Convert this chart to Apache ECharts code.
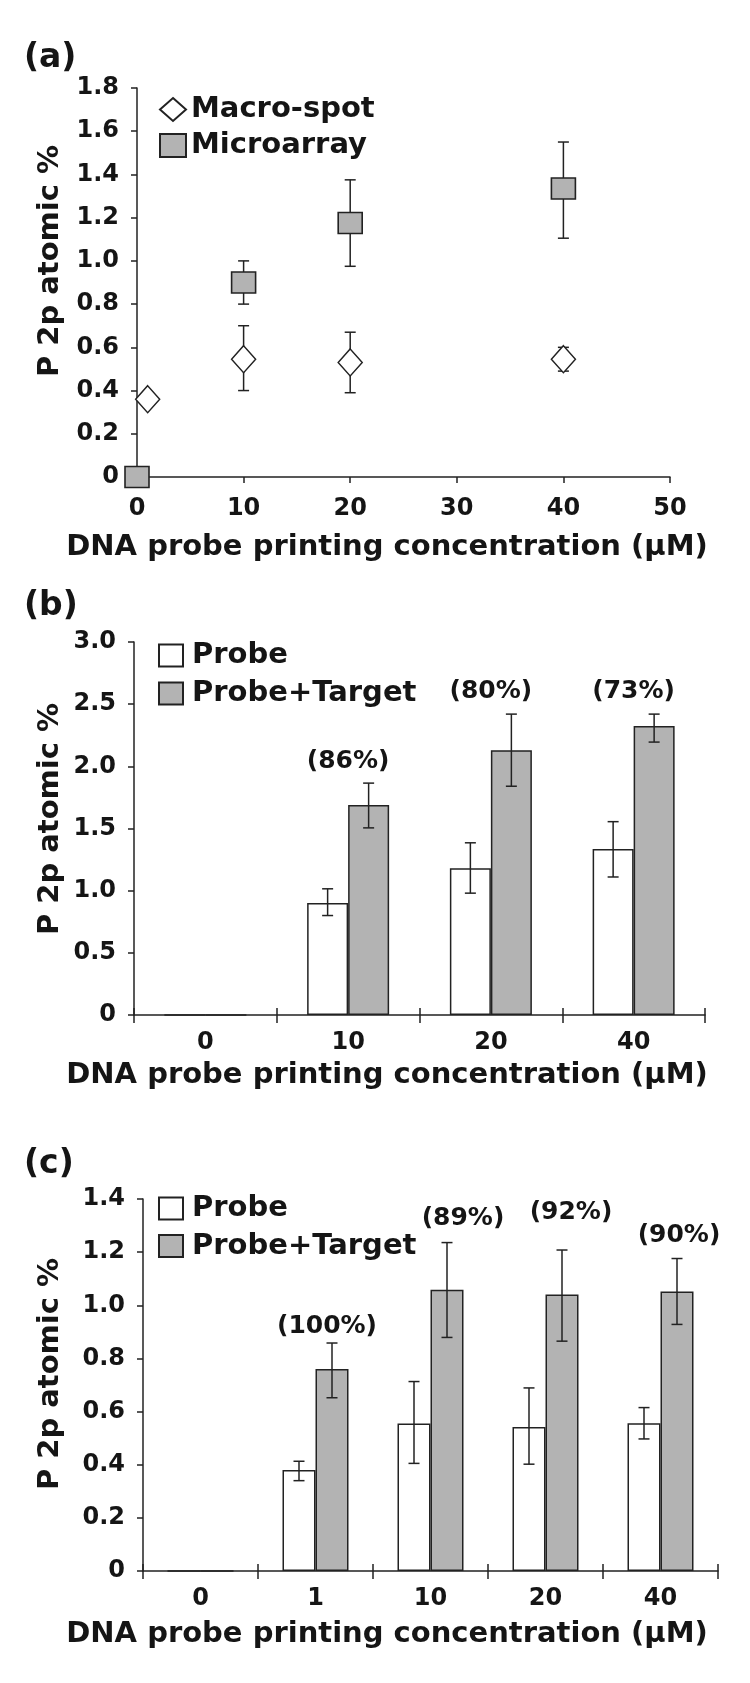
<!DOCTYPE html>
<html><head><meta charset="utf-8">
<script src="https://cdn.jsdelivr.net/npm/echarts@6/dist/echarts.min.js"></script>
<style>html,body{margin:0;padding:0;background:#fff}#c{width:750px;height:1683px}</style>
</head><body><div id="c"></div>
<script>
// ---------- Panel (a) data ----------
const aMacroX   = [1, 10, 20, 40];
const aMacroY   = [0.36, 0.545, 0.53, 0.545];
const aMacroErr = [null, [0.40, 0.70], [0.39, 0.67], [0.49, 0.60]];
const aMicroX   = [0, 10, 20, 40];
const aMicroY   = [0, 0.90, 1.175, 1.335];
const aMicroErr = [null, [0.80, 1.00], [0.975, 1.375], [1.105, 1.55]];

// ---------- Panel (b) data ----------
const bCategories = ['0', '10', '20', '40'];
const bProbe      = [0, 0.90, 1.18, 1.335];
const bProbeErr   = [null, [0.80, 1.015], [0.98, 1.385], [1.11, 1.555]];
const bTarget     = [0, 1.69, 2.13, 2.325];
const bTargetErr  = [null, [1.505, 1.865], [1.84, 2.42], [2.195, 2.42]];
const bPctText    = [null, '(86%)', '(80%)', '(73%)'];
const bPctY       = [null, 2.04, 2.60, 2.60];

// ---------- Panel (c) data ----------
const cCategories = ['0', '1', '10', '20', '40'];
const cProbe      = [0, 0.38, 0.555, 0.542, 0.556];
const cProbeErr   = [null, [0.34, 0.413], [0.405, 0.713], [0.402, 0.689], [0.497, 0.615]];
const cTarget     = [0, 0.76, 1.058, 1.041, 1.052];
const cTargetErr  = [null, [0.652, 0.858], [0.879, 1.236], [0.865, 1.208], [0.928, 1.176]];
const cPctText    = [null, '(100%)', '(89%)', '(92%)', '(90%)'];
const cPctY       = [null, 0.92, 1.327, 1.348, 1.264];

// ---------- Text ----------
const panelLabels = ['(a)', '(b)', '(c)'];
const xTitle = 'DNA probe printing concentration (\u03bcM)';
const yTitle = 'P 2p atomic %';

// ---------- Styles ----------
const FONT = "'DejaVu Sans', sans-serif";
const INK = '#151515';
const GRAY = '#b3b3b3';
const LINE = '#222';
// small horizontal nudges (px) of the percentage annotations, as placed in the original figure
const bPctNudge = [0, 0, 0, 0];
const cPctNudge = [0, -5, 16, 9, 2];

function errData(xs, errs) {
  const out = [];
  errs.forEach((e, i) => { if (e) out.push([xs[i], e[0], e[1]]); });
  return out;
}
function errSeries(xi, yi, data, dx) {
  return {
    type: 'custom', xAxisIndex: xi, yAxisIndex: yi, data: data, z: 4, silent: true,
    clip: false,
    renderItem(params, api) {
      const lo = api.coord([api.value(0), api.value(1)]);
      const hi = api.coord([api.value(0), api.value(2)]);
      const cx = lo[0] + dx, cap = 5.5;
      const st = { stroke: LINE, lineWidth: 1.5 };
      return { type: 'group', children: [
        { type: 'line', shape: { x1: cx, y1: hi[1], x2: cx, y2: lo[1] }, style: st },
        { type: 'line', shape: { x1: cx - cap, y1: hi[1], x2: cx + cap, y2: hi[1] }, style: st },
        { type: 'line', shape: { x1: cx - cap, y1: lo[1], x2: cx + cap, y2: lo[1] }, style: st }
      ]};
    }
  };
}
function pctSeries(xi, yi, texts, ys, dx, nudge) {
  const data = [], txt = [], nd = [];
  texts.forEach((t, i) => { if (t) { data.push([i, ys[i]]); txt.push(t); nd.push(nudge[i]); } });
  return {
    type: 'custom', xAxisIndex: xi, yAxisIndex: yi, data: data, z: 5, silent: true, clip: false,
    renderItem(params, api) {
      const p = api.coord([api.value(0), api.value(1)]);
      return { type: 'text', x: p[0] + dx + nd[params.dataIndex], y: p[1], style: {
        text: txt[params.dataIndex], fill: INK, font: 'bold 25px ' + FONT,
        textAlign: 'center', textVerticalAlign: 'middle' } };
    }
  };
}
const yFmt = v => (v === 0 ? '0' : v.toFixed(1));
const axisLineStyle = { show: true, lineStyle: { color: LINE, width: 1.5 } };
const labelStyle = (margin) => ({ color: INK, fontSize: 24, fontWeight: 'bold', fontFamily: FONT, margin: margin });

const grids = [
  { left: 137, top: 88, width: 533, height: 389 },
  { left: 134, top: 642, width: 571, height: 373 },
  { left: 143, top: 1199, width: 575, height: 372 }
];

const xAxes = [
  { gridIndex: 0, type: 'value', min: 0, max: 50, interval: 10, axisLine: axisLineStyle,
    axisTick: { show: true, length: 6, lineStyle: { color: LINE, width: 1.5 } },
    splitLine: { show: false }, axisLabel: labelStyle(20) },
  { gridIndex: 1, type: 'category', data: bCategories, position: 'bottom', axisLine: axisLineStyle,
    axisTick: { show: true, length: 8, lineStyle: { color: LINE, width: 1.5 } },
    axisLabel: labelStyle(16) },
  { gridIndex: 2, type: 'category', data: cCategories, position: 'bottom', axisLine: axisLineStyle,
    axisTick: { show: true, length: 8, lineStyle: { color: LINE, width: 1.5 } },
    axisLabel: labelStyle(16) },
  // overlays giving crossing ticks
  { gridIndex: 1, type: 'category', data: bCategories, position: 'bottom', axisLine: { show: false },
    axisTick: { show: true, inside: true, length: 7, lineStyle: { color: LINE, width: 1.5 } },
    axisLabel: { show: false } },
  { gridIndex: 2, type: 'category', data: cCategories, position: 'bottom', axisLine: { show: false },
    axisTick: { show: true, inside: true, length: 7, lineStyle: { color: LINE, width: 1.5 } },
    axisLabel: { show: false } }
];
const yCommon = (min, max, interval, gi) => ({
  gridIndex: gi, type: 'value', min: min, max: max, interval: interval,
  axisLine: axisLineStyle,
  axisTick: { show: true, length: 6, lineStyle: { color: LINE, width: 1.5 } },
  splitLine: { show: false },
  axisLabel: Object.assign(labelStyle(18), { formatter: yFmt })
});
const yAxes = [yCommon(0, 1.8, 0.2, 0), yCommon(0, 3.0, 0.5, 1), yCommon(0, 1.4, 0.2, 2)];

const legendText = { color: INK, fontSize: 29, fontWeight: 'bold', fontFamily: FONT, lineHeight: 29 };
const legends = [
  { orient: 'vertical', left: 154, top: 90, itemWidth: 26, itemHeight: 23, itemGap: 7,
    data: ['Macro-spot', 'Microarray'], textStyle: legendText, selectedMode: false },
  { orient: 'vertical', left: 153, top: 636, itemWidth: 24, itemHeight: 22, itemGap: 9, icon: 'rect',
    data: ['Probe', 'Probe+Target'], textStyle: Object.assign({ padding: [0, 0, 0, 4] }, legendText), selectedMode: false },
  { orient: 'vertical', left: 153, top: 1189, itemWidth: 24, itemHeight: 22, itemGap: 8.5, icon: 'rect',
    data: ['Probe', 'Probe+Target'], textStyle: Object.assign({ padding: [0, 0, 0, 4] }, legendText), selectedMode: false }
];

const bBarW = 41, cBarW = 33;
const whiteBar = { color: '#fff', borderColor: LINE, borderWidth: 1.5 };
const grayBar = { color: GRAY, borderColor: LINE, borderWidth: 1.5 };

const series = [
  errSeries(0, 0, errData(aMacroX, aMacroErr), 0),
  errSeries(0, 0, errData(aMicroX, aMicroErr), 0),
  { name: 'Macro-spot', type: 'scatter', xAxisIndex: 0, yAxisIndex: 0, symbol: 'diamond',
    symbolSize: [24, 27], clip: false, z: 5,
    itemStyle: { color: '#fff', borderColor: LINE, borderWidth: 1.5, opacity: 1 },
    data: aMacroX.map((x, i) => [x, aMacroY[i]]) },
  { name: 'Microarray', type: 'scatter', xAxisIndex: 0, yAxisIndex: 0, symbol: 'rect',
    symbolSize: [24, 21], clip: false, z: 6,
    itemStyle: { color: GRAY, borderColor: LINE, borderWidth: 1.5, opacity: 1 },
    data: aMicroX.map((x, i) => [x, aMicroY[i]]) },

  { name: 'Probe', type: 'bar', xAxisIndex: 1, yAxisIndex: 1, barWidth: bBarW, barGap: '0%',
    itemStyle: whiteBar, data: bProbe },
  { name: 'Probe+Target', type: 'bar', xAxisIndex: 1, yAxisIndex: 1, barWidth: bBarW, barGap: '0%',
    itemStyle: grayBar, data: bTarget },
  errSeries(1, 1, errData(bCategories.map((c, i) => i), bProbeErr), -bBarW / 2),
  errSeries(1, 1, errData(bCategories.map((c, i) => i), bTargetErr), bBarW / 2),
  pctSeries(1, 1, bPctText, bPctY, 0, bPctNudge),

  { name: 'Probe', type: 'bar', xAxisIndex: 2, yAxisIndex: 2, barWidth: cBarW, barGap: '0%',
    itemStyle: whiteBar, data: cProbe },
  { name: 'Probe+Target', type: 'bar', xAxisIndex: 2, yAxisIndex: 2, barWidth: cBarW, barGap: '0%',
    itemStyle: grayBar, data: cTarget },
  errSeries(2, 2, errData(cCategories.map((c, i) => i), cProbeErr), -cBarW / 2),
  errSeries(2, 2, errData(cCategories.map((c, i) => i), cTargetErr), cBarW / 2),
  pctSeries(2, 2, cPctText, cPctY, cBarW / 2, cPctNudge)
];

const panelY = [58, 606, 1164];
const xTitleY = [547, 1075, 1634];
const yTitleY = [261, 819, 1374];
const graphics = [];
for (let i = 0; i < 3; i++) {
  graphics.push({ type: 'text', x: 24, y: panelY[i], style: { text: panelLabels[i], fill: INK,
    font: 'bold 33px ' + FONT, textAlign: 'left', textVerticalAlign: 'middle' } });
  graphics.push({ type: 'text', x: 387, y: xTitleY[i], style: { text: xTitle, fill: INK,
    font: 'bold 29px ' + FONT, textAlign: 'center', textVerticalAlign: 'middle' } });
  graphics.push({ type: 'text', x: 50, y: yTitleY[i], rotation: Math.PI / 2, style: { text: yTitle, fill: INK,
    font: 'bold 29px ' + FONT, textAlign: 'center', textVerticalAlign: 'middle' } });
}

const chart = echarts.init(document.getElementById('c'), null, { renderer: 'canvas' });
chart.setOption({
  backgroundColor: '#ffffff',
  animation: false,
  grid: grids,
  xAxis: xAxes,
  yAxis: yAxes,
  legend: legends,
  series: series,
  graphic: graphics
});
</script></body></html>
